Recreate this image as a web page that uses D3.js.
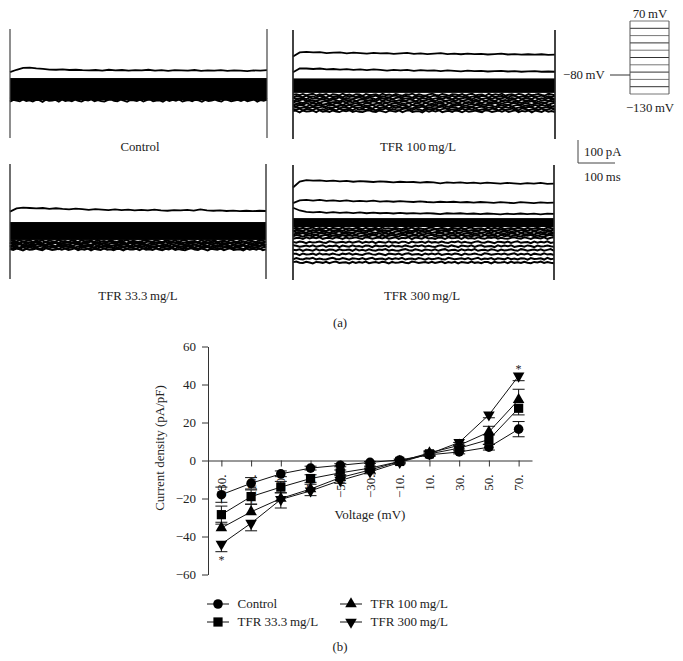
<!DOCTYPE html>
<html>
<head>
<meta charset="utf-8">
<style>
  html, body { margin: 0; padding: 0; background: #fff; }
  svg { display: block; }
  text { font-family: "Liberation Serif", serif; fill: #222; }
</style>
<script src="https://cdn.jsdelivr.net/npm/d3@7"></script>
</head>
<body>
<div id="chart"></div>
<script>
(function() {
  var width = 683,
      height = 661;

  // I-V curves (b)
  var voltages = [-130, -110, -90, -70, -50, -30, -10, 10, 30, 50, 70];
  var voltageLabels = ["\u2212130.", "\u2212110.", "\u221290.", "\u221270.", "\u221250.", "\u221230.", "\u221210.", "10.", "30.", "50.", "70."];
  var densityTicks = [60, 40, 20, 0, -20, -40, -60];

  var controlValues = [-18, -12, -7, -4, -2.5, -1, 0.3, 3, 4.5, 7, 16.5];
  var tfr33Values = [-28.5, -19, -14, -9.5, -6.5, -4, -0.5, 3.5, 6.5, 11, 27.5];
  var tfr100Values = [-35.5, -27, -20, -15, -9, -5, -0.5, 4, 8, 15, 32];
  var tfr300Values = [-44, -33, -20.5, -16, -10.5, -6, -1, 3.5, 9.5, 24, 44.5];

  // error bars, up and down from the mean
  var controlUp = [4, 3, 1.5, 1, 0.8, 0.5, 0.5, 0.8, 1, 1.5, 4];
  var controlDown = [4, 3, 1.5, 1, 0.8, 0.5, 0.5, 0.8, 1, 1.5, 4];
  var tfr33Up = [4.5, 3.5, 3, 2, 1.5, 1, 0.5, 1, 1.5, 2.5, 0];
  var tfr33Down = [5, 4, 3, 2, 1.5, 1, 0.5, 1, 1.5, 2.5, 3.5];
  var tfr100Up = [3, 4, 3, 2.5, 1.5, 1, 0.5, 1, 1.5, 3, 5.5];
  var tfr100Down = [0, 0, 0, 0, 0, 0, 0, 0, 0, 0, 0];
  var tfr300Up = [0, 0, 0, 0, 0, 0, 0, 0, 0, 0, 0];
  var tfr300Down = [4, 4, 4.5, 2.5, 1.5, 1, 0.5, 1, 1.5, 1.5, 2.5];

  // current traces (a), pA around each panel's baseline
  var controlTop = [78,88,96,97,94,92,89,88,90,87,88,86,85,87,84,88,85,87,84,86,85,88,84,86,83,86,85,84,87,83,85,84,86,83,85,84,82,85,84,86];
  var tfr100First = [128,146,148,146,147,143,145,146,142,145,143,141,144,142,143,140,142,144,140,142,139,141,143,139,141,138,141,139,140,137,139,141,137,139,136,138,136,138,135,136];
  var tfr100Second = [60,76,76,74,76,72,74,71,73,70,72,69,72,70,67,70,68,70,66,69,67,68,65,68,66,64,67,65,66,63,65,66,63,65,62,64,65,62,63,62];
  var tfr33Top = [84,98,102,100,98,100,96,99,96,94,97,95,92,95,93,91,94,91,93,90,92,90,93,90,88,91,90,92,89,94,90,88,90,87,89,86,88,86,88,87];
  var tfr300First = [150,176,182,180,181,178,180,177,179,175,178,176,174,177,175,172,175,173,174,171,174,172,168,172,170,172,169,171,168,171,169,167,170,168,166,169,167,170,166,167];
  var tfr300Second = [82,94,96,93,96,92,94,91,94,90,92,90,93,89,91,88,91,89,87,90,87,85,88,86,88,85,87,84,87,85,83,86,84,82,86,84,82,85,83,84];
  var tfr300Third = [62,50,44,42,44,40,43,40,42,39,42,38,41,38,40,37,40,37,39,36,39,37,34,38,36,38,35,37,34,37,35,33,36,34,37,34,36,33,36,35];

  var lowerControl = [-38, -46];
  var lower100 = [-38, -46, -54, -62, -70, -78, -86, -94, -102, -110];
  var lower33 = [-44, -50, -56, -62, -68, -74, -80];
  var lower300 = [-28, -36, -44, -52, -60, -70, -88, -105, -122, -140, -160, -176];
  var wobble = [0,3,-2,4,-3,1,5,-4,2,-1,4,-5,3,0,-3,5,-2,1,-4,3,2,-5,4,-1,0,3,-4,5,-2,1,-3,4,-1,-4,3,0,5,-3,2,-2,
                -4,2,5,-1,-3,4,0,-5,3,1,-2,4,-4,2,5,-3,0,1,-5,4,-2,3,-1,5,-4,0,2,-3,4,1,-5,3,-2,0,4,-1,-4,5,2,-3];

  // voltage protocol steps, mV
  var protocolSteps = [70, 50, 30, 10, -10, -30, -50, -70, -90, -110, -130];

  var panels = [
    { label: "Control", labelX: 140, labelY: 151, x0: 10, x1: 267, top: 29, bottom: 138, base: 90,
      traces: [controlTop], bandHigh: 52, bandLow: -44, lower: lowerControl, lowerWidth: 2, amp: 0.5, stem: "#444", stemWidth: 1.2 },
    { label: "TFR 100\u2009mg/L", labelX: 418, labelY: 151, x0: 293, x1: 555, top: 30, bottom: 139, base: 86,
      traces: [tfr100First, tfr100Second], bandHigh: 33, bandLow: -30, lower: lower100, lowerWidth: 1.9, amp: 0.45, stem: "#222", stemWidth: 1.7 },
    { label: "TFR 33.3\u2009mg/L", labelX: 138, labelY: 300, x0: 10, x1: 266, top: 164, bottom: 279, base: 231,
      traces: [tfr33Top], bandHigh: 39, bandLow: -39, lower: lower33, lowerWidth: 2, amp: 0.45, stem: "#333", stemWidth: 1.4 },
    { label: "TFR 300\u2009mg/L", labelX: 422, labelY: 300, x0: 293, x1: 554, top: 165, bottom: 280, base: 222,
      traces: [tfr300First, tfr300Second, tfr300Third], bandHigh: 17, bandLow: -22, lower: lower300, lowerWidth: 2, amp: 0.4, stem: "#222", stemWidth: 1.7 }
  ];

  var svg = d3.select("#chart")
        .append("svg")
        .attr("width", width)
        .attr("height", height);

  var pxPerPa = 23 / 100;

  panels.forEach(function(p) {
    var g = svg.append("g");
    var y = d3.scaleLinear().domain([0, 100]).range([p.base, p.base - 100 * pxPerPa]);

    function trace(values, strokeWidth) {
      var x = d3.scaleLinear().domain([0, values.length - 1]).range([p.x0, p.x1]);
      var line = d3.line()
        .x(function(d, i) { return x(i); })
        .y(function(d) { return y(d); });
      g.append("path")
        .attr("d", line(values))
        .attr("fill", "none")
        .attr("stroke", "#000")
        .attr("stroke-width", strokeWidth);
    }

    g.append("rect")
      .attr("x", p.x0)
      .attr("width", p.x1 - p.x0)
      .attr("y", y(p.bandHigh))
      .attr("height", y(p.bandLow) - y(p.bandHigh))
      .attr("fill", "#000");

    p.lower.forEach(function(level, n) {
      trace(wobble.map(function(w, i) {
        return level + wobble[(i + n * 11) % wobble.length] * p.amp * 2;
      }), p.lowerWidth);
    });

    p.traces.forEach(function(values) { trace(values, 1.8); });

    [p.x0, p.x1].forEach(function(sx) {
      g.append("line")
        .attr("x1", sx).attr("x2", sx)
        .attr("y1", p.top).attr("y2", p.bottom)
        .attr("stroke", p.stem)
        .attr("stroke-width", p.stemWidth);
    });

    g.append("text")
      .attr("x", p.labelX)
      .attr("y", p.labelY)
      .attr("text-anchor", "middle")
      .attr("font-size", 12.8)
      .text(p.label);
  });

  // protocol box
  var stepY = d3.scalePoint().domain(protocolSteps).range([21, 94]);
  svg.selectAll(".step")
    .data(protocolSteps)
    .enter().append("line")
    .attr("class", "step")
    .attr("x1", 630).attr("x2", 669)
    .attr("y1", function(d) { return stepY(d); })
    .attr("y2", function(d) { return stepY(d); })
    .attr("stroke", function(d, i) { return i % 2 ? "#333" : "#777"; })
    .attr("stroke-width", 1);
  svg.append("line").attr("x1", 630).attr("x2", 630).attr("y1", 21).attr("y2", 94).attr("stroke", "#555");
  svg.append("line").attr("x1", 669).attr("x2", 669).attr("y1", 21).attr("y2", 94).attr("stroke", "#555");
  svg.append("line").attr("x1", 610).attr("x2", 630).attr("y1", 75).attr("y2", 75).attr("stroke", "#333");

  // scale bar
  svg.append("path")
    .attr("d", d3.line()([[578, 140], [578, 163], [615, 163]]))
    .attr("fill", "none")
    .attr("stroke", "#444");

  var notes = [
    ["70\u2009mV", 650, 18, "middle"],
    ["\u2212130\u2009mV", 650, 112, "middle"],
    ["\u221280\u2009mV", 563, 79, "start"],
    ["100\u2009pA", 584, 156, "start"],
    ["100\u2009ms", 584, 181, "start"],
    ["(a)", 340, 327, "middle"],
    ["(b)", 340, 651, "middle"]
  ];
  svg.selectAll(".note")
    .data(notes)
    .enter().append("text")
    .attr("class", "note")
    .attr("x", function(d) { return d[1]; })
    .attr("y", function(d) { return d[2]; })
    .attr("text-anchor", function(d) { return d[3]; })
    .attr("font-size", 12.8)
    .text(function(d) { return d[0]; });

  // I-V plot
  var xScale = d3.scaleLinear().domain([-139, 79]).range([208, 532]);
  var yScale = d3.scaleLinear().domain([-60, 60]).range([574.5, 346.5]);

  var yAxis = d3.axisLeft(yScale)
    .tickValues(densityTicks)
    .tickSize(6)
    .tickPadding(6)
    .tickSizeOuter(0)
    .tickFormat(function(d) { return String(d).replace("-", "\u2212"); });

  var xAxis = d3.axisBottom(xScale)
    .tickValues(voltages)
    .tickSize(6)
    .tickSizeOuter(0)
    .tickFormat(function(d, i) { return voltageLabels[i]; });

  var yG = svg.append("g")
    .attr("transform", "translate(208,0)")
    .call(yAxis);
  yG.selectAll("text").attr("font-size", 13).style("font-family", '"Liberation Serif", serif').style("fill", "#222");

  var xG = svg.append("g")
    .attr("transform", "translate(0," + yScale(0) + ")")
    .call(xAxis);
  xG.selectAll("text")
    .attr("font-size", 13)
    .style("font-family", '"Liberation Serif", serif')
    .style("fill", "#222")
    .attr("text-anchor", "end")
    .attr("dy", null)
    .attr("y", 0)
    .attr("transform", "translate(4,14) rotate(-90)");
  svg.selectAll(".domain, .tick line").attr("stroke", "#333");

  svg.append("text")
    .attr("transform", "translate(164,448) rotate(-90)")
    .attr("text-anchor", "middle")
    .attr("font-size", 13)
    .text("Current density (pA/pF)");

  svg.append("text")
    .attr("x", 370)
    .attr("y", 519)
    .attr("text-anchor", "middle")
    .attr("font-size", 13)
    .text("Voltage (mV)");

  var series = [
    { name: "Control", values: controlValues, up: controlUp, down: controlDown, symbol: d3.symbolCircle, size: 72, flip: false, lx: 218, ly: 604 },
    { name: "TFR 33.3\u2009mg/L", values: tfr33Values, up: tfr33Up, down: tfr33Down, symbol: d3.symbolSquare, size: 85, flip: false, lx: 218, ly: 622 },
    { name: "TFR 100\u2009mg/L", values: tfr100Values, up: tfr100Up, down: tfr100Down, symbol: d3.symbolTriangle, size: 58, flip: false, lx: 351, ly: 604 },
    { name: "TFR 300\u2009mg/L", values: tfr300Values, up: tfr300Up, down: tfr300Down, symbol: d3.symbolTriangle, size: 58, flip: true, lx: 351, ly: 622 }
  ];

  var curve = d3.line()
    .x(function(d, i) { return xScale(voltages[i]); })
    .y(function(d) { return yScale(d); });

  function marker(s) {
    return d3.symbol().type(s.symbol).size(s.size)();
  }

  series.forEach(function(s) {
    var g = svg.append("g");

    g.append("path")
      .attr("d", curve(s.values))
      .attr("fill", "none")
      .attr("stroke", "#111")
      .attr("stroke-width", 1);

    s.values.forEach(function(v, i) {
      var cx = xScale(voltages[i]);
      [v - s.down[i], v + s.up[i]].forEach(function(e) {
        if (e === v) return;
        g.append("line")
          .attr("x1", cx).attr("x2", cx)
          .attr("y1", yScale(v))
          .attr("y2", yScale(e))
          .attr("stroke", "#111");
        g.append("line")
          .attr("x1", cx - 6).attr("x2", cx + 6)
          .attr("y1", yScale(e)).attr("y2", yScale(e))
          .attr("stroke", "#111");
      });
    });

    g.selectAll("path.mark")
      .data(s.values)
      .enter().append("path")
      .attr("class", "mark")
      .attr("d", marker(s))
      .attr("fill", "#000")
      .attr("transform", function(d, i) {
        return "translate(" + xScale(voltages[i]) + "," + yScale(d) + ")" + (s.flip ? " rotate(180)" : "");
      });

    // legend
    svg.append("line")
      .attr("x1", s.lx - 11).attr("x2", s.lx + 11)
      .attr("y1", s.ly).attr("y2", s.ly)
      .attr("stroke", "#111");
    svg.append("path")
      .attr("d", marker(s))
      .attr("fill", "#000")
      .attr("transform", "translate(" + s.lx + "," + s.ly + ")" + (s.flip ? " rotate(180)" : ""));
    svg.append("text")
      .attr("x", s.lx + 19.5)
      .attr("y", s.ly + 4)
      .attr("font-size", 13)
      .text(s.name);
  });

  // significance marks
  svg.append("text").attr("x", xScale(-130)).attr("y", 564).attr("text-anchor", "middle").attr("font-size", 12).text("*");
  svg.append("text").attr("x", xScale(70)).attr("y", 373).attr("text-anchor", "middle").attr("font-size", 12).text("*");
})()
</script>
</body>
</html>
